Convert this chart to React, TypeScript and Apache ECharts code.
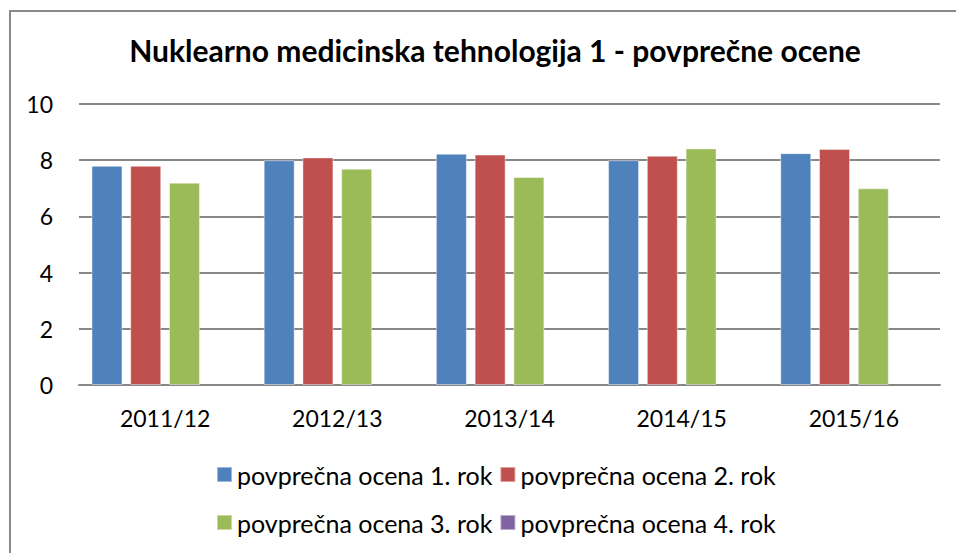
import React, { useEffect, useRef } from "react";
import * as echarts from "echarts";

const categories = ["2011/12", "2012/13", "2013/14", "2014/15", "2015/16"];
const seriesNames = [
  "povprečna ocena 1. rok",
  "povprečna ocena 2. rok",
  "povprečna ocena 3. rok",
  "povprečna ocena 4. rok",
];
const rok1 = [7.8, 8.0, 8.23, 8.0, 8.25];
const rok2 = [7.8, 8.1, 8.2, 8.16, 8.4];
const rok3 = [7.2, 7.7, 7.4, 8.42, 7.0];
const rok4: (number | string)[] = ["-", "-", "-", "-", "-"];
const colors = ["#4F81BD", "#C0504D", "#9BBB59", "#8064A2"];
const yTicks = { min: 0, max: 10, interval: 2 };

const FONT = "Lato";

export default function App() {
  const ref = useRef<HTMLDivElement>(null);
  useEffect(() => {
    if (!ref.current) return;
    const chart = echarts.init(ref.current, null, { renderer: "svg" });
    const values = [rok1, rok2, rok3, rok4];
    const legendBase = {
      left: 216,
      padding: 0,
      icon: "rect",
      itemWidth: 15,
      itemHeight: 15,
      itemGap: 7,
      textStyle: { fontFamily: FONT, fontSize: 25, color: "#000" },
    };
    chart.setOption({
      animation: false,
      backgroundColor: "#ffffff",
      color: colors,
      textStyle: { fontFamily: FONT },
      title: {
        text: "Nuklearno medicinska tehnologija 1 - povprečne ocene",
        left: 490,
        textAlign: "center",
        top: 30,
        textStyle: { fontFamily: FONT, fontSize: 30, fontWeight: "bold", color: "#000" },
      },
      graphic: [
        {
          type: "rect",
          shape: { x: 10, y: 11, width: 1000, height: 600 },
          style: { fill: "none", stroke: "#8a8a8a", lineWidth: 2 },
          silent: true,
        },
      ],
      legend: [
        { ...legendBase, data: seriesNames.slice(0, 2), top: 462 },
        { ...legendBase, data: seriesNames.slice(2, 4), top: 510 },
      ],
      grid: { left: 79, right: 16, top: 104, bottom: 168, containLabel: false },
      xAxis: {
        type: "category",
        data: categories,
        axisLine: { show: true, lineStyle: { color: "#878787", width: 2 } },
        axisTick: { show: false },
        axisLabel: { fontFamily: FONT, fontSize: 23, color: "#000", margin: 21 },
      },
      yAxis: {
        type: "value",
        min: yTicks.min,
        max: yTicks.max,
        interval: yTicks.interval,
        axisLine: { show: false },
        axisTick: { show: false },
        axisLabel: { fontFamily: FONT, fontSize: 23, color: "#000", margin: 26 },
        splitLine: { lineStyle: { color: "#878787", width: 2 } },
      },
      series: values.map((d, i) => ({
        name: seriesNames[i],
        type: "bar",
        data: d,
        barWidth: 31,
        barGap: "25%",
        itemStyle: { color: colors[i], borderColor: "rgba(255,255,255,0.45)", borderWidth: 1 },
      })),
    });
    return () => chart.dispose();
  }, []);
  return (
    <div
      ref={ref}
      style={{ position: "fixed", left: 0, top: 0, width: 956, height: 553 }}
    />
  );
}
